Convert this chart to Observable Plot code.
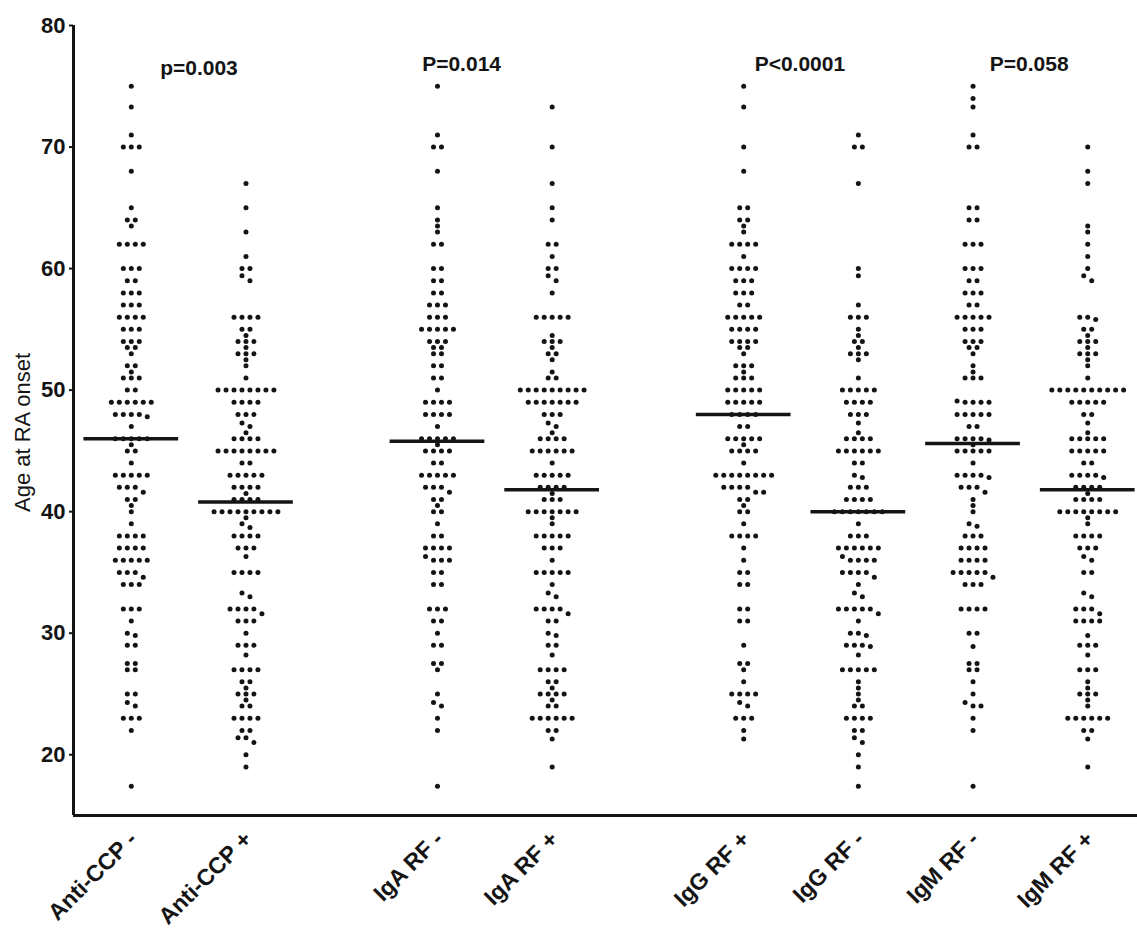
<!DOCTYPE html>
<html>
<head>
<meta charset="utf-8">
<script src="https://cdn.jsdelivr.net/npm/d3@7"></script>
<script src="https://cdn.jsdelivr.net/npm/@observablehq/plot@0.6"></script>
<style>
  html, body { margin: 0; padding: 0; background: #fff; }
  #chart { width: 1137px; height: 929px; overflow: hidden; }
</style>
</head>
<body>
<div id="chart"></div>
<script>
// ---- data: [age at onset, number of patients] per group ----
const groups = ["Anti-CCP -", "Anti-CCP +", "IgA RF -", "IgA RF +", "IgG RF +", "IgG RF -", "IgM RF -", "IgM RF +"];
const means = [46.0, 40.8, 45.8, 41.8, 48.0, 40.0, 45.6, 41.8];
const pLabels = ["p=0.003", "P=0.014", "P<0.0001", "P=0.058"];
const yTicks = [20, 30, 40, 50, 60, 70, 80];
const yLabel = "Age at RA onset";

const antiCCPneg = [[75,1],[73.3,1],[71,1],[70,3],[68,1],[65,1],[64,2],[63.5,1],[62,4],[60,3],[59,2],[58,3],[57,3],[56,4],[55,3],[54,3],[53.5,2],[53,1],[52,2],[51.5,1],[51,3],[50,2],[49,6],[48,4],[47.8,1],[47,1],[46,5],[45.5,1],[45,2],[44,1],[43,5],[42,3],[41.6,1],[41,2],[40.5,1],[40,1],[39,1],[38,4],[37,4],[36,5],[35,3],[34.6,1],[34,3],[32,3],[31,1],[30,1],[29.8,1],[29,2],[27.5,2],[27,2],[25,2],[24.3,1],[24,1],[23,3],[22,1],[17.4,1]];
const antiCCPpos = [[67,1],[65,1],[63,1],[61,1],[60,2],[59.4,1],[59,1],[56,4],[55,2],[54.5,1],[54,3],[53.5,1],[53,3],[52.5,1],[52,1],[51,1],[50,8],[49,4],[48,3],[47.3,1],[47,1],[46.5,1],[46,4],[45,8],[44,2],[43,5],[42,4],[41.5,1],[41,4],[40,9],[39.5,1],[39,1],[38.7,1],[38,4],[37,3],[36.3,1],[35,4],[33.3,1],[33,1],[32,4],[31.6,1],[31,3],[30,1],[29,3],[28.2,1],[27,4],[26,2],[25.5,1],[25,3],[24.5,1],[24,2],[23,4],[22,2],[21.4,2],[21,1],[20,1],[19,1]];
const igaRFneg = [[75,1],[71,1],[70,2],[68,1],[65,1],[64,1],[63.5,1],[63,1],[62,2],[60,2],[59,2],[58,2],[57,3],[56,3],[55,5],[54,3],[53.5,2],[53,2],[52,2],[51,2],[50,1],[49,4],[48,4],[47,1],[46,5],[45.5,1],[45,4],[44,2],[43,5],[42,3],[41.6,1],[41,2],[40.5,1],[40,2],[39,1],[38,2],[37,4],[36.3,1],[36,3],[35,2],[34,2],[32,3],[31,2],[30,1],[29,2],[27.5,2],[27,1],[25,1],[24.3,1],[24,1],[23,1],[22,1],[17.4,1]];
const igaRFpos = [[73.3,1],[70,1],[67,1],[65,1],[64,1],[62,2],[61,1],[60,2],[59.4,1],[59,1],[58,1],[56,5],[54.5,1],[54,3],[53.5,1],[53,2],[52.5,1],[51.5,1],[51,2],[50,9],[49,7],[48,3],[47.3,1],[47,1],[46.5,1],[46,4],[45,6],[44,1],[43,5],[42,4],[41.5,1],[41,3],[40,7],[39.5,1],[39,1],[38,5],[37,3],[36,1],[35,5],[34,1],[33.3,1],[33,1],[32,4],[31.6,1],[31,2],[30,1],[29.8,1],[29,2],[28.2,1],[27,4],[26,2],[25.5,1],[25,4],[24.5,1],[24,2],[23,6],[22,2],[21.3,1],[19,1]];
const iggRFpos = [[75,1],[73.3,1],[70,1],[68,1],[65,2],[64,2],[63.5,1],[63,1],[62,4],[61,1],[60,4],[59,3],[58,3],[57,2],[56,5],[55,4],[54,4],[53.5,2],[53,1],[52,3],[51.5,1],[51,3],[50,5],[49,5],[48,4],[47,2],[46,5],[45.5,1],[45,4],[44,1],[43,8],[42,4],[41.6,2],[41,2],[40.5,1],[40,2],[39,1],[38,4],[37,1],[36,1],[35,2],[34,2],[32,2],[31,2],[29,1],[27.5,2],[27,1],[26,1],[25,4],[24.3,1],[24,1],[23,3],[22,1],[21.3,1]];
const iggRFneg = [[71,1],[70,2],[67,1],[60,1],[59.4,1],[57,1],[56,3],[55,1],[54.5,1],[54,2],[53.5,1],[53,3],[52.5,1],[51,1],[50,5],[49,4],[48,3],[47.3,1],[46.5,1],[46,4],[45,6],[44,2],[43,1],[42.8,1],[42,3],[41,4],[40,7],[39,1],[38,3],[37,6],[36.3,1],[36,4],[35,4],[34.6,1],[34,1],[33.3,1],[33,1],[32,5],[31.6,1],[31,1],[30,2],[29.8,1],[29,3],[28.9,1],[28.2,1],[27,5],[26,1],[25.5,1],[25,1],[24.5,1],[24,2],[23,4],[22,2],[21.4,1],[21,1],[20,1],[19,1],[17.4,1]];
const igmRFneg = [[75,1],[74,1],[73.3,1],[71,1],[70,2],[65,2],[64,2],[62,3],[60,3],[59,2],[58,3],[57,2],[56,5],[55,3],[54,3],[53.5,2],[53,1],[52,1],[51.5,1],[51,3],[49.1,1],[49,4],[48,5],[47,2],[46,4],[45.9,1],[45.5,1],[45,5],[44,1],[43,4],[42.8,1],[42,3],[41.6,1],[41,1],[40.5,1],[40,1],[39,1],[38.8,1],[38,3],[37,4],[36,4],[35,5],[34.6,1],[34,3],[32,4],[30,2],[28.9,1],[27.5,2],[27,2],[26,1],[25,1],[24.3,1],[24,2],[23,1],[22,1],[17.4,1]];
const igmRFpos = [[70,1],[68,1],[67,1],[63.5,1],[63,1],[62,1],[61,1],[60,1],[59.4,1],[59,1],[56,2],[55.8,1],[55,2],[54.5,1],[54,3],[53.5,1],[53,3],[52.5,1],[52,1],[51,1],[50,10],[49,5],[48,2],[47.3,1],[46.5,1],[46,5],[45,5],[44,2],[43,4],[42.8,1],[42,4],[41.5,1],[41,4],[40,8],[39.5,1],[39,1],[38,4],[37,3],[36.3,1],[36,1],[35,2],[33.3,1],[33,1],[32,3],[31.6,1],[31,4],[29.8,1],[29,3],[28.2,1],[27,3],[26,1],[25.5,1],[25,3],[24.5,1],[24,1],[23,6],[22,2],[21.3,1],[19,1]];
const series = [antiCCPneg, antiCCPpos, igaRFneg, igaRFpos, iggRFpos, iggRFneg, igmRFneg, igmRFpos];

// ---- layout (not data) ----
const groupPos = [0, 1, 2.67, 3.67, 5.34, 6.34, 7.34, 8.34]; // column centres, in column units
const slotW = 8 / 115;        // horizontal gap between neighbouring dots, in column units
const halfMean = 0.413;       // half length of the mean bar
const pNudge = [0.09, -0.29, -0.01, -0.01];
const pY = [76.5, 76.85, 76.85, 76.85];
const xDomain = [-0.504, 8.774];

// expand [age, n] pairs into individual dots, arranged in centred rows
const dots = [];
series.forEach((pairs, gi) => {
  const rows = new Map();
  for (const [age, n] of pairs) {
    const r = Math.round(age);
    const key = Math.abs(age - r) <= 0.45 ? r : age;
    if (!rows.has(key)) rows.set(key, []);
    for (let i = 0; i < n; i++) rows.get(key).push(age);
  }
  for (const ages of rows.values()) {
    const m = ages.length;
    ages.forEach((a, i) => dots.push({group: groups[gi], age: a, x: groupPos[gi] + (i - (m - 1) / 2) * slotW}));
  }
});
const meanData = groups.map((g, i) => ({group: g, mean: means[i], x: groupPos[i]}));
const labelData = groups.map((g, i) => ({group: g, x: groupPos[i]}));
const pData = pLabels.map((t, i) => ({text: t, x: (groupPos[2 * i] + groupPos[2 * i + 1]) / 2 + pNudge[i], y: pY[i]}));

const ink = "#141414";
const plot = Plot.plot({
  width: 1137,
  height: 929,
  marginLeft: 73,
  marginRight: 0,
  marginTop: 25,
  marginBottom: 114,
  style: {fontFamily: "'Liberation Sans', Arial, sans-serif", background: "#fff", color: ink, overflow: "visible"},
  x: {domain: xDomain, axis: null},
  y: {domain: [15, 80], axis: null},
  marks: [
    Plot.axisY({ticks: yTicks, tickSize: 4, tickPadding: 4, strokeWidth: 2, fontSize: 22, fontWeight: "bold", label: null, tickFormat: d => String(d)}),
    Plot.ruleX([xDomain[0]], {y1: 15, y2: 80, stroke: ink, strokeWidth: 3}),
    Plot.ruleY([15], {x1: xDomain[0], x2: xDomain[1], stroke: ink, strokeWidth: 3}),
    Plot.dot(dots, {x: "x", y: "age", r: 2.5, fill: ink, stroke: "none"}),
    Plot.ruleY(meanData, {y: "mean", x1: d => d.x - halfMean, x2: d => d.x + halfMean, stroke: ink, strokeWidth: 3.5}),
    Plot.text(pData, {x: "x", y: "y", text: "text", fontSize: 21, fontWeight: "bold", fill: ink}),
    Plot.text(labelData, {x: "x", y: 15, text: "group", rotate: -45, textAnchor: "end", dx: 2, dy: 20, fontSize: 23, fontWeight: "bold", fill: ink}),
    Plot.text([yLabel], {frameAnchor: "left", textAnchor: "middle", dx: -51, dy: 12, rotate: -90, fontSize: 22, fill: ink})
  ]
});
document.getElementById("chart").appendChild(plot);
</script>
</body>
</html>
